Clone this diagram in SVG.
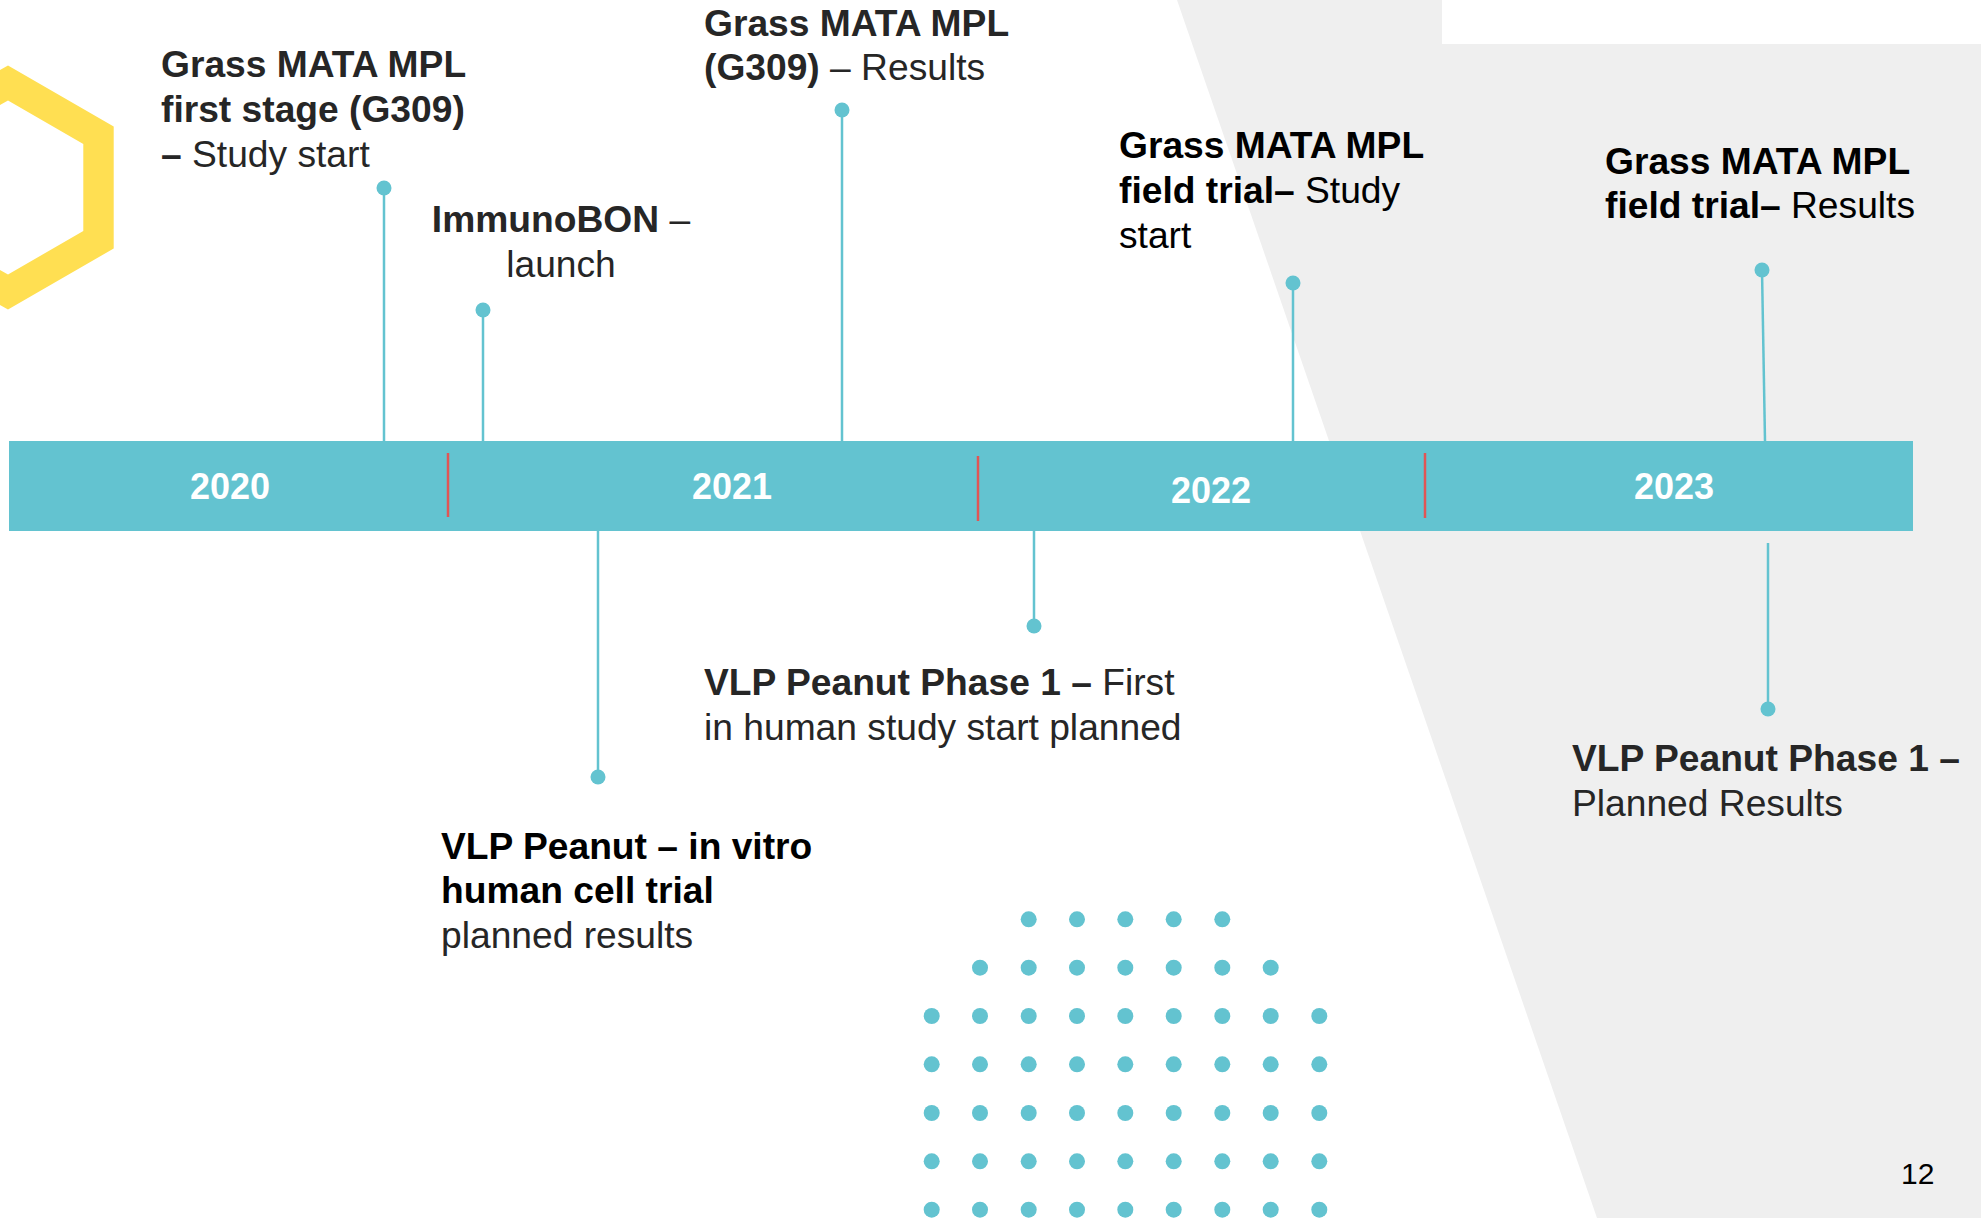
<svg xmlns="http://www.w3.org/2000/svg" width="1981" height="1218" viewBox="0 0 1981 1218">
  <style>
    .lbl { font-family: "Liberation Sans", Arial, sans-serif; font-size: 37.2px; fill: #262626; }
    .dark { fill: #000000; }
    .b { font-weight: bold; }
    .year { font-family: "Liberation Sans", Arial, sans-serif; font-size: 36px; font-weight: bold; fill: #ffffff; text-anchor: middle; }
    .stem { stroke: #63c3d0; stroke-width: 2.5; fill: none; }
    .pin { fill: #63c3d0; }
    .divider { stroke: #e05555; stroke-width: 2.5; }
    .grid circle { fill: #63c3d0; }
  </style>

  <!-- background -->
  <rect x="0" y="0" width="1981" height="1218" fill="#ffffff"/>
  <polygon points="1177,0 1981,0 1981,1218 1597,1218" fill="#efefef"/>
  <rect x="1442" y="0" width="539" height="44" fill="#ffffff"/>

  <!-- yellow hexagon outline, left edge -->
  <path d="M8,65.5 L113.7,126.5 L113.7,248.5 L8,309.5 L-97.7,248.5 L-97.7,126.5 Z M8,100.5 L83.3,144 L83.3,231 L8,274.5 L-67.3,231 L-67.3,144 Z" fill="#ffdf52" fill-rule="evenodd"/>

  <!-- dot grid -->
  <g class="grid">
    <circle cx="1028.7" cy="919.3" r="8"/><circle cx="1077" cy="919.3" r="8"/><circle cx="1125.3" cy="919.3" r="8"/><circle cx="1173.7" cy="919.3" r="8"/><circle cx="1222.3" cy="919.3" r="8"/>
    <circle cx="980" cy="967.7" r="8"/><circle cx="1028.7" cy="967.7" r="8"/><circle cx="1077" cy="967.7" r="8"/><circle cx="1125.3" cy="967.7" r="8"/><circle cx="1173.7" cy="967.7" r="8"/><circle cx="1222.3" cy="967.7" r="8"/><circle cx="1270.7" cy="967.7" r="8"/>
    <circle cx="931.7" cy="1016" r="8"/><circle cx="980" cy="1016" r="8"/><circle cx="1028.7" cy="1016" r="8"/><circle cx="1077" cy="1016" r="8"/><circle cx="1125.3" cy="1016" r="8"/><circle cx="1173.7" cy="1016" r="8"/><circle cx="1222.3" cy="1016" r="8"/><circle cx="1270.7" cy="1016" r="8"/><circle cx="1319.3" cy="1016" r="8"/>
    <circle cx="931.7" cy="1064.3" r="8"/><circle cx="980" cy="1064.3" r="8"/><circle cx="1028.7" cy="1064.3" r="8"/><circle cx="1077" cy="1064.3" r="8"/><circle cx="1125.3" cy="1064.3" r="8"/><circle cx="1173.7" cy="1064.3" r="8"/><circle cx="1222.3" cy="1064.3" r="8"/><circle cx="1270.7" cy="1064.3" r="8"/><circle cx="1319.3" cy="1064.3" r="8"/>
    <circle cx="931.7" cy="1113" r="8"/><circle cx="980" cy="1113" r="8"/><circle cx="1028.7" cy="1113" r="8"/><circle cx="1077" cy="1113" r="8"/><circle cx="1125.3" cy="1113" r="8"/><circle cx="1173.7" cy="1113" r="8"/><circle cx="1222.3" cy="1113" r="8"/><circle cx="1270.7" cy="1113" r="8"/><circle cx="1319.3" cy="1113" r="8"/>
    <circle cx="931.7" cy="1161.3" r="8"/><circle cx="980" cy="1161.3" r="8"/><circle cx="1028.7" cy="1161.3" r="8"/><circle cx="1077" cy="1161.3" r="8"/><circle cx="1125.3" cy="1161.3" r="8"/><circle cx="1173.7" cy="1161.3" r="8"/><circle cx="1222.3" cy="1161.3" r="8"/><circle cx="1270.7" cy="1161.3" r="8"/><circle cx="1319.3" cy="1161.3" r="8"/>
    <circle cx="931.7" cy="1209.7" r="8"/><circle cx="980" cy="1209.7" r="8"/><circle cx="1028.7" cy="1209.7" r="8"/><circle cx="1077" cy="1209.7" r="8"/><circle cx="1125.3" cy="1209.7" r="8"/><circle cx="1173.7" cy="1209.7" r="8"/><circle cx="1222.3" cy="1209.7" r="8"/><circle cx="1270.7" cy="1209.7" r="8"/><circle cx="1319.3" cy="1209.7" r="8"/>
  </g>

  <!-- timeline bar -->
  <g id="timeline">
    <rect x="9" y="441" width="1904" height="90" fill="#63c3d0"/>
    <line class="divider" x1="448" y1="453" x2="448" y2="517"/>
    <line class="divider" x1="978" y1="456" x2="978" y2="521"/>
    <line class="divider" x1="1425" y1="453" x2="1425" y2="518"/>
    <text class="year" x="230" y="499">2020</text>
    <text class="year" x="732" y="499">2021</text>
    <text class="year" x="1211" y="503">2022</text>
    <text class="year" x="1674" y="499">2023</text>
  </g>

  <!-- stems with pins -->
  <g id="connectors">
    <line class="stem" x1="384" y1="188" x2="384" y2="441"/>
    <circle class="pin" cx="384" cy="188" r="7.5"/>
    <line class="stem" x1="483" y1="310" x2="483" y2="441"/>
    <circle class="pin" cx="483" cy="310" r="7.5"/>
    <line class="stem" x1="842" y1="110" x2="842" y2="441"/>
    <circle class="pin" cx="842" cy="110" r="7.5"/>
    <line class="stem" x1="1293" y1="283" x2="1293" y2="441"/>
    <circle class="pin" cx="1293" cy="283" r="7.5"/>
    <line class="stem" x1="1762" y1="270" x2="1765" y2="441"/>
    <circle class="pin" cx="1762" cy="270" r="7.5"/>
    <line class="stem" x1="598" y1="531" x2="598" y2="777"/>
    <circle class="pin" cx="598" cy="777" r="7.5"/>
    <line class="stem" x1="1034" y1="531" x2="1034" y2="626"/>
    <circle class="pin" cx="1034" cy="626" r="7.5"/>
    <line class="stem" x1="1768" y1="543" x2="1768" y2="709"/>
    <circle class="pin" cx="1768" cy="709" r="7.5"/>
  </g>

  <!-- milestones above the bar -->
  <g id="grass-first-stage">
    <text class="lbl" x="161" y="77"><tspan class="b">Grass MATA MPL</tspan></text>
    <text class="lbl" x="161" y="122"><tspan class="b">first stage (G309)</tspan></text>
    <text class="lbl" x="161" y="167"><tspan class="b">–</tspan> Study start</text>
  </g>

  <g id="immunobon-launch">
    <text class="lbl" x="561" y="232" text-anchor="middle"><tspan class="b">ImmunoBON</tspan> –</text>
    <text class="lbl" x="561" y="277" text-anchor="middle">launch</text>
  </g>

  <g id="grass-g309-results">
    <text class="lbl" x="704" y="36"><tspan class="b">Grass MATA MPL</tspan></text>
    <text class="lbl" x="704" y="80"><tspan class="b">(G309)</tspan> – Results</text>
  </g>

  <g id="grass-field-start">
    <text class="lbl dark" x="1119" y="158"><tspan class="b">Grass MATA MPL</tspan></text>
    <text class="lbl dark" x="1119" y="203"><tspan class="b">field trial–</tspan> Study</text>
    <text class="lbl dark" x="1119" y="248">start</text>
  </g>

  <g id="grass-field-results">
    <text class="lbl dark" x="1605" y="174"><tspan class="b">Grass MATA MPL</tspan></text>
    <text class="lbl dark" x="1605" y="218"><tspan class="b">field trial–</tspan> Results</text>
  </g>

  <!-- milestones below the bar -->
  <g id="vlp-in-vitro">
    <text class="lbl dark" x="441" y="859"><tspan class="b">VLP Peanut – in vitro</tspan></text>
    <text class="lbl dark" x="441" y="903"><tspan class="b">human cell trial</tspan></text>
    <text class="lbl" x="441" y="948">planned results</text>
  </g>

  <g id="vlp-phase1-start">
    <text class="lbl" x="704" y="695"><tspan class="b">VLP Peanut Phase 1 –</tspan> First</text>
    <text class="lbl" x="704" y="740">in human study start planned</text>
  </g>

  <g id="vlp-phase1-results">
    <text class="lbl" x="1572" y="771"><tspan class="b">VLP Peanut Phase 1 –</tspan></text>
    <text class="lbl" x="1572" y="816">Planned Results</text>
  </g>

  <!-- page number -->
  <text x="1901" y="1184" font-family="Liberation Sans, Arial, sans-serif" font-size="30" fill="#000000">12</text>
</svg>
